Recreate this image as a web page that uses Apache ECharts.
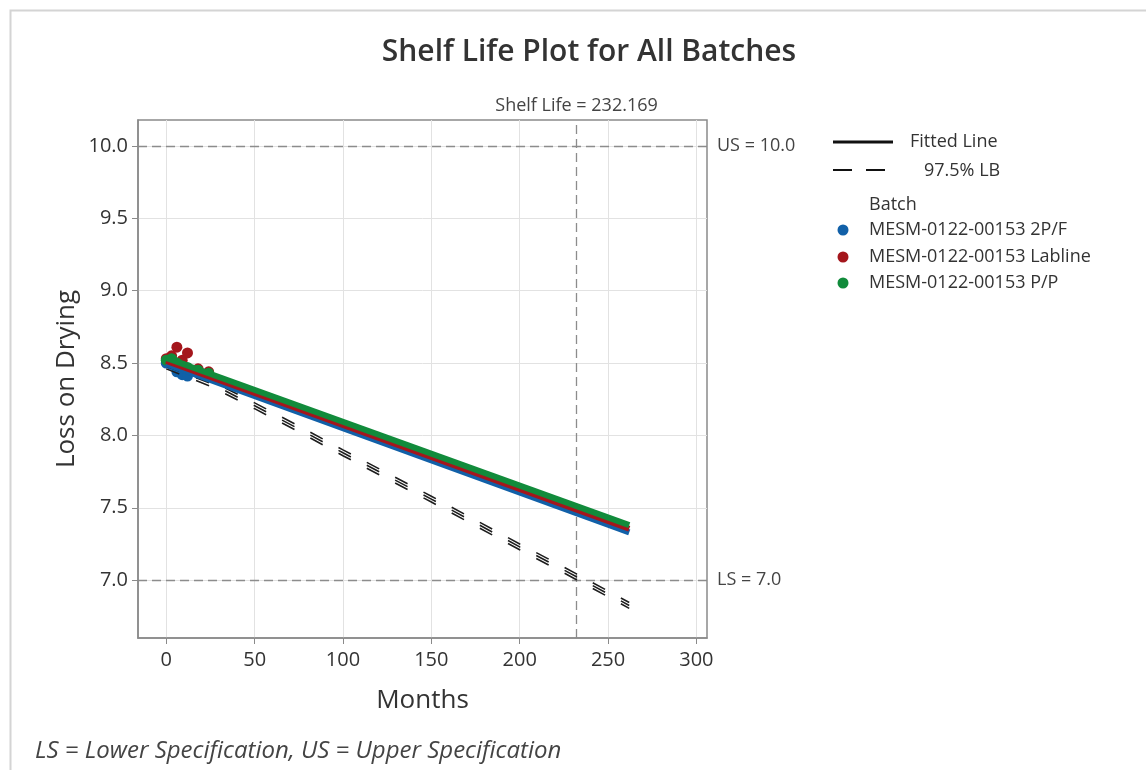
<!DOCTYPE html>
<html>
<head>
<title>Shelf Life Plot</title>
<meta http-equiv="Content-Type" content="text/html; charset=UTF-8" />
<style>
  html, body { margin: 0; padding: 0; background: #fff; }
  #container { width: 1146px; height: 770px; }
</style>
</head>
<body>
<div id="container"></div>
<script src="https://cdn.jsdelivr.net/npm/echarts@6/dist/echarts.min.js"></script>
<script type="text/javascript">

    // 批次名称和颜色
    var batchNames = ['MESM-0122-00153 2P/F', 'MESM-0122-00153 Labline', 'MESM-0122-00153 P/P'];
    var batchColors = ['#1160a8', '#a4161c', '#118b3b'];

    // 观测数据 (月, 干燥失重)
    var months = [0, 3, 6, 9, 12, 18, 24];
    var ptsBlue = [8.50, 8.49, 8.44, 8.42, 8.41, 8.43, 8.42];
    var ptsRed = [8.53, 8.55, 8.61, 8.52, 8.57, 8.46, 8.44];
    var ptsGreen = [8.52, 8.53, 8.50, 8.48, 8.47, 8.45, 8.43];

    // 拟合线 (起点和终点)
    var fitMonths = [0, 262];
    var fitBlue = [8.495, 7.33];
    var fitRed = [8.515, 7.355];
    var fitGreen = [8.535, 7.38];

    // 97.5% 下限
    var lbMonths = [0, 25, 50, 75, 100, 125, 150, 175, 200, 225, 250, 262];
    var lbBlue = [8.46, 8.34, 8.185, 8.025, 7.86, 7.70, 7.54, 7.375, 7.21, 7.05, 6.885, 6.805];
    var lbRed = [8.48, 8.36, 8.205, 8.045, 7.88, 7.72, 7.56, 7.395, 7.23, 7.07, 6.905, 6.825];
    var lbGreen = [8.50, 8.38, 8.225, 8.065, 7.90, 7.74, 7.58, 7.415, 7.25, 7.09, 6.925, 6.845];

    // 刻度
    var xTicks = [0, 50, 100, 150, 200, 250, 300];
    var yTicks = [7.0, 7.5, 8.0, 8.5, 9.0, 9.5, 10.0];

    // 规格限和货架期
    var upperSpec = 10.0;
    var lowerSpec = 7.0;
    var shelfLife = 232.169;

    var FONT = '"Open Sans", "Noto Sans", sans-serif';

    function pairs(xs, ys) {
        var out = [];
        for (var i = 0; i < xs.length; i++) out.push([xs[i], ys[i]]);
        return out;
    }

    var dom = document.getElementById('container');
    var myChart = echarts.init(dom);

    var ptsAll = [ptsBlue, ptsRed, ptsGreen];
    var fitAll = [fitBlue, fitRed, fitGreen];
    var lbAll = [lbBlue, lbRed, lbGreen];

    var series = [];

    // 网格线
    var gridLines = [];
    xTicks.forEach(function (v) { gridLines.push({ xAxis: v }); });
    yTicks.forEach(function (v) { gridLines.push({ yAxis: v }); });
    series.push({
        type: 'line', name: 'grid', data: [], silent: true, z: 0,
        markLine: {
            silent: true, symbol: 'none', animation: false, z: 0,
            label: { show: false },
            lineStyle: { color: '#e2e2e2', type: 'solid', width: 1 },
            data: gridLines
        }
    });

    // 参考线
    series.push({
        type: 'line', name: 'ref', data: [], silent: true, z: 1,
        markLine: {
            silent: true, symbol: 'none', animation: false, z: 1,
            lineStyle: { color: '#8c8c8c', type: [9, 5], width: 1.3 },
            label: { fontFamily: FONT, fontSize: 18, color: '#444' },
            data: [
                { yAxis: upperSpec, label: { position: 'end', formatter: 'US = 10.0', distance: 10 } },
                { yAxis: lowerSpec, label: { position: 'end', formatter: 'LS = 7.0', distance: 10 } },
                { xAxis: shelfLife, label: { position: 'end', formatter: 'Shelf Life = 232.169', distance: 5 } }
            ]
        }
    });

    for (var b = 0; b < 3; b++) {
        series.push({
            type: 'scatter', name: batchNames[b], z: 2,
            symbolSize: 11,
            itemStyle: { color: batchColors[b], opacity: 1 },
            data: pairs(months, ptsAll[b])
        });
    }
    for (var b = 0; b < 3; b++) {
        series.push({
            type: 'line', name: 'lb' + b, z: 3, showSymbol: false, symbol: 'none',
            lineStyle: { color: '#1e1e1e', width: 1.6, type: [14, 18] },
            data: pairs(lbMonths, lbAll[b])
        });
    }
    for (var b = 0; b < 3; b++) {
        series.push({
            type: 'line', name: 'fit' + b, z: 4, showSymbol: false, symbol: 'none',
            lineStyle: { color: batchColors[b], width: 6, cap: 'butt' },
            data: pairs(fitMonths, fitAll[b])
        });
    }

    // 图例
    var legendX = 833;
    var legendFont = '18px ' + FONT;
    var gfx = [
        { type: 'rect', left: 8, top: 8, shape: { width: 1150, height: 780 }, style: { fill: 'none', stroke: '#d4d4d4', lineWidth: 2 }, silent: true },
        { type: 'line', shape: { x1: legendX, y1: 142, x2: legendX + 60, y2: 142 }, style: { stroke: '#111', lineWidth: 3 } },
        { type: 'text', x: 910, y: 142, style: { text: 'Fitted Line', font: legendFont, fill: '#333', verticalAlign: 'middle' } },
        { type: 'line', shape: { x1: legendX, y1: 170, x2: legendX + 19, y2: 170 }, style: { stroke: '#111', lineWidth: 2 } },
        { type: 'line', shape: { x1: legendX + 33, y1: 170, x2: legendX + 52, y2: 170 }, style: { stroke: '#111', lineWidth: 2 } },
        { type: 'text', x: 924, y: 171, style: { text: '97.5% LB', font: legendFont, fill: '#333', verticalAlign: 'middle' } },
        { type: 'text', x: 869, y: 205, style: { text: 'Batch', font: legendFont, fill: '#333', verticalAlign: 'middle' } },
        { type: 'text', x: 35, y: 751, style: { text: 'LS = Lower Specification, US = Upper Specification', font: 'italic 24px ' + FONT, fill: '#444', verticalAlign: 'middle' } }
    ];
    var rowY = [230, 257, 283];
    for (var b = 0; b < 3; b++) {
        gfx.push({ type: 'circle', shape: { cx: 843, cy: rowY[b], r: 5.5 }, style: { fill: batchColors[b] } });
        gfx.push({ type: 'text', x: 869, y: rowY[b], style: { text: batchNames[b], font: legendFont, fill: '#333', verticalAlign: 'middle' } });
    }

    var option = {
        animation: false,
        backgroundColor: '#fff',
        title: {
            text: 'Shelf Life Plot for All Batches',
            left: 584, top: 32, textAlign: 'center',
            textStyle: { fontFamily: FONT, fontSize: 30, fontWeight: 600, color: '#333' }
        },
        grid: {
            left: 138, top: 120, width: 569, height: 518,
            show: true, borderColor: '#8a8a8a', borderWidth: 1.5, backgroundColor: 'transparent'
        },
        xAxis: {
            type: 'value', min: -16, max: 306,
            name: 'Months', nameLocation: 'middle', nameGap: 50,
            nameTextStyle: { fontFamily: FONT, fontSize: 26, color: '#333' },
            axisLine: { show: true, onZero: false, lineStyle: { color: '#8a8a8a', width: 1.5 } },
            axisTick: { show: true, inside: false, length: 6, customValues: xTicks, lineStyle: { color: '#8a8a8a' } },
            axisLabel: { customValues: xTicks, margin: 12, fontFamily: FONT, fontSize: 20, color: '#333' },
            splitLine: { show: false }
        },
        yAxis: {
            type: 'value', min: 6.6, max: 10.18,
            name: 'Loss on Drying', nameLocation: 'middle', nameGap: 58,
            nameTextStyle: { fontFamily: FONT, fontSize: 26, color: '#333' },
            axisLine: { show: true, onZero: false, lineStyle: { color: '#8a8a8a', width: 1.5 } },
            axisTick: { show: true, inside: false, length: 6, customValues: yTicks, lineStyle: { color: '#8a8a8a' } },
            axisLabel: {
                customValues: yTicks, margin: 10, fontFamily: FONT, fontSize: 20, color: '#333',
                formatter: function (v) { return v.toFixed(1); }
            },
            splitLine: { show: false }
        },
        graphic: gfx,
        series: series
    };

    myChart.setOption(option, true);
</script>
</body>
</html>
